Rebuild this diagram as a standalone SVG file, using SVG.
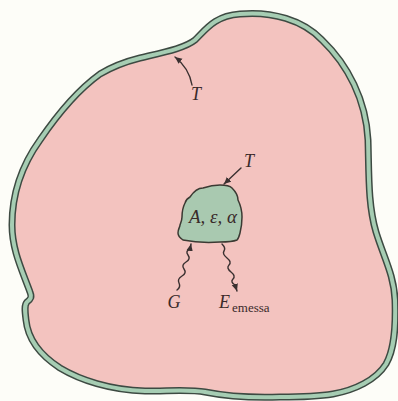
<svg xmlns="http://www.w3.org/2000/svg" width="398" height="401" viewBox="0 0 398 401">
<defs>
<style>
.lbl{font-family:"Liberation Serif","DejaVu Serif",serif;font-style:italic;fill:#3a2a2a}
.sub{font-family:"Liberation Serif","DejaVu Serif",serif;fill:#3a2a2a}
.ln{fill:none;stroke:#3a3030;stroke-width:1.4;stroke-linecap:round}
</style>
<marker id="ah" markerUnits="userSpaceOnUse" markerWidth="10" markerHeight="8" refX="7" refY="4" orient="auto">
<path d="M0,0.8 L7,4 L0,7.2 Z" fill="#3a3030"/>
</marker>
<path id="wall" d="M140,58 C165,52 185,48 195,40 C207,28 215,16 240,14 C272,11 303,20 322,40 C348,65 366,100 368,140 C369,175 368,205 376,232 C384,258 394,275 395,300 C396,330 394,350 386,364 C376,380 355,390 333,394 C315,397 300,397 280,397 C250,398 225,396 205,392 C190,389 170,391 145,391 C110,390 80,380 60,368 C40,355 28,340 26,320 C25,312 24,305 27,302 C31,299 32,297 30,292 C22,270 12,250 12,225 C12,195 22,165 40,140 C55,118 75,92 100,74 C115,65 128,61 140,58 Z"/>
</defs>
<rect width="398" height="401" fill="#fdfdf8"/>
<g id="enclosure">
<use href="#wall" fill="#f3c3bf" stroke="#3d4a42" stroke-width="7"/>
<use href="#wall" fill="none" stroke="#a6cdb3" stroke-width="4"/>
</g>
<g id="body">
<path d="M190,197 C194,191 198,188 203,188 C209,186 215,185 220,185 C226,185 230,186 232,188 C236,192 238,196 238,200 C241,206 242,212 242,217 C242,224 241,229 240,233 C239,237 238,239 237,240 C232,242 226,242 220,242 C205,243 193,242 183,240 C180,238 178,236 178,233 C178,229 180,227 180,225 C181,222 182,220 182,217 C182,212 183,207 185,203 C186,200 188,198 190,197 Z" fill="#a9c9b0" stroke="#3b3a33" stroke-width="1.5"/>
<text class="lbl" x="213" y="223" font-size="19" text-anchor="middle" textLength="48" lengthAdjust="spacingAndGlyphs">A, ε, α</text>
</g>
<g id="connectors">
<path class="ln" d="M192,85 Q189,68 175,57" marker-end="url(#ah)"/>
<path class="ln" d="M241,168 L224,184" marker-end="url(#ah)"/>
<path class="ln" d="M177,290 Q181,287 179,283 T182,276 T184,269 T186,262 T188,255 T190,249 L191,244" marker-end="url(#ah)"/>
<path class="ln" d="M222,244 Q226,248 224,251 T227,258 T229,265 T231,272 T233,279 T235,285 L237,291" marker-end="url(#ah)"/>
</g>
<g id="labels">
<text class="lbl" x="196" y="100" font-size="18" text-anchor="middle">T</text>
<text class="lbl" x="249" y="167" font-size="18" text-anchor="middle">T</text>
<text class="lbl" x="174" y="308" font-size="18" text-anchor="middle">G</text>
<text class="lbl" x="219" y="308" font-size="18">E</text>
<text class="sub" x="232" y="312" font-size="13">emessa</text>
</g>
</svg>
